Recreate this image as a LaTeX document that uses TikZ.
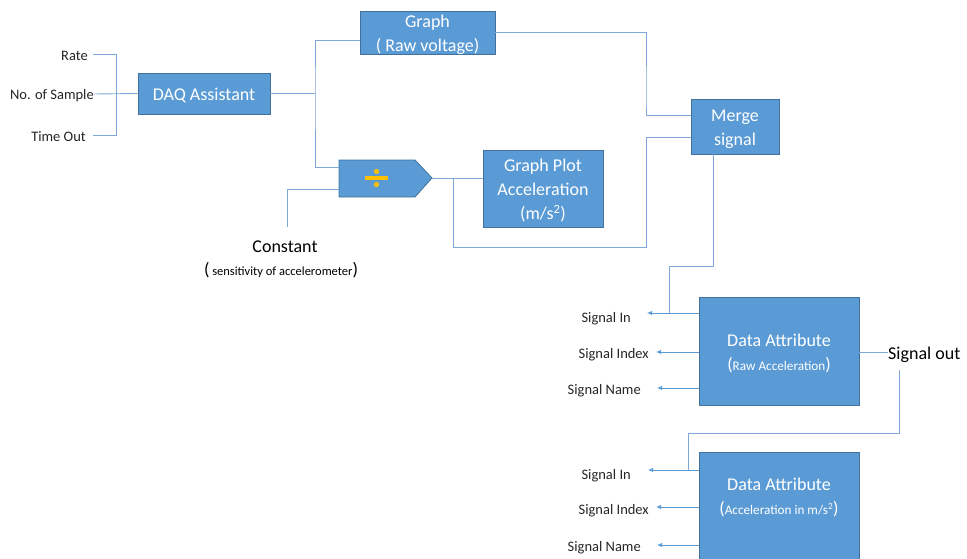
\documentclass[tikz,border=0pt]{standalone}
\usepackage{fontspec}
\setmainfont{Carlito}
\usetikzlibrary{arrows.meta}
\definecolor{boxfill}{HTML}{5B9BD5}
\definecolor{boxedge}{HTML}{41719C}
\definecolor{wirec}{HTML}{7DA7D9}
\definecolor{lblc}{HTML}{262626}
\definecolor{divc}{HTML}{FFC000}
\begin{document}
\begin{tikzpicture}[x=1pt,y=-1pt,
  blk/.style={draw=boxedge, fill=boxfill, line width=0.8pt, inner sep=0pt},
  btxt/.style={text=white, align=center, inner sep=0pt, font=\fontsize{18}{24}\selectfont},
  wire/.style={draw=wirec, line width=0.9pt},
  arr/.style={draw=boxfill, line width=0.9pt, -{Latex[length=5pt,width=4.5pt]}},
  lab/.style={text=lblc, inner sep=0pt, anchor=east, font=\fontsize{14.5}{17}\selectfont},
  big/.style={text=black, inner sep=0pt, font=\fontsize{18}{22}\selectfont}]
\useasboundingbox (0,0) rectangle (967,558);

% left labels
\node[lab] (rate) at (88,55.5) {Rate};
\node[lab] (nos) at (94,95.5) {No. of Sample};
\node[lab] (tout) at (86,136.5) {Time Out};
\coordinate (rw) at (93,54);
\coordinate (nw) at (94,94);
\coordinate (tw) at (93,135);

% boxes
\node[blk, minimum width=132, minimum height=41] (daq) at (204,93.5) {};
\node[btxt] at ([yshift=-2pt]daq.center) {DAQ Assistant};
\node[blk, minimum width=135, minimum height=43] (graph) at (427.5,32.5) {};
\node[btxt] at ([yshift=-2pt]graph.center) {Graph\\( Raw voltage)};
\node[blk, minimum width=120, minimum height=77] (gplot) at (543,188.5) {};
\node[btxt] at ([yshift=-2pt]gplot.center) {Graph Plot\\Acceleration\\(m/s\textsuperscript{2})};
\node[blk, minimum width=88, minimum height=55] (merge) at (735,126.5) {};
\node[btxt] at ([yshift=-2.5pt]merge.center) {Merge\\signal};
\node[blk, minimum width=160, minimum height=108] (da1) at (779,351) {};
\node[btxt] at ([yshift=-2pt]da1.center) {Data Attribute\\(\fontsize{13.2}{24}\selectfont Raw Acceleration\fontsize{18}{24}\selectfont)};
\node[blk, minimum width=160, minimum height=120] (da2) at (779,512) {};
\node[btxt] at ([yshift=15pt]da2.center) {Data Attribute\\(\fontsize{13.2}{24}\selectfont Acceleration in m/s\textsuperscript{2}\fontsize{18}{24}\selectfont)};

% divide block
\draw[draw=boxedge, fill=boxfill, line width=0.8pt] (339,160) -- (415,160) -- (432,178) -- (415,197) -- (339,197) -- cycle;
\coordinate (divin1) at (339,167);
\coordinate (divin2) at (339,189);
\coordinate (divtip) at (432,178);
\draw[divc, line width=4.5pt] (365,178) -- (388,178);
\fill[divc] (376.5,171.5) circle (2.6);
\fill[divc] (376.5,184.5) circle (2.6);

% constant
\node[big] (const) at (285,247) {Constant};
\node[inner sep=0pt, text=black] (sens) at (281,270.5) {\fontsize{18}{22}\selectfont(\fontsize{12.5}{22}\selectfont{} sensitivity of accelerometer\fontsize{18}{22}\selectfont)};
\coordinate (cst) at (287,227);

% left wiring
\draw[wire] (rw) -- (116,54) coordinate (jl) -- (jl |- tw) -- (tw);
\draw[wire] (nw) -- (daq.west);

% split
\coordinate (sp) at (315,93.5);
\draw[wire] (daq.east) -- (sp);
\draw[wire] ([yshift=-7.5pt]graph.west) -| (sp) |- (divin1);
\draw[wire] (cst) |- (divin2);

% divide output
\draw[wire] (divtip) -- (divtip -| gplot.west);
\coordinate (j2) at (453,178);
\coordinate (m2) at (646,247);
\draw[wire] (j2) |- (m2) |- ([yshift=-10.5pt]merge.west);

% graph to merge
\coordinate (m1) at (646,100);
\draw[wire] (graph.east) -| (m1) |- ([yshift=11.5pt]merge.west);

% merge to data attribute 1
\coordinate (m3) at (669,266);
\draw[wire] ([xshift=-22pt]merge.south) |- (m3) -- (669,313);

% data attribute 1 labels
\node[lab] (sin1) at (631,319) {Signal In};
\node[lab] (sidx1) at (649,355) {Signal Index};
\node[lab] (snm1) at (641,391) {Signal Name};
\draw[arr] ([yshift=38pt]da1.west) -- (647,313);
\draw[arr] ([yshift=-1pt]da1.west) -- (656,352);
\draw[arr] ([yshift=-37pt]da1.west) -- (657,388);

% signal out
\node[big, anchor=west] (sout) at (888,355) {Signal out};
\draw[wire] ([yshift=-1pt]da1.east) -- ([yshift=-1pt]da1.east -| sout.west);
\coordinate (so2) at (899,370);
\coordinate (m4) at (688,433);
\draw[wire] (so2) |- (m4) -- (688,470);

% data attribute 2 labels
\node[lab] (sin2) at (631,475.5) {Signal In};
\node[lab] (sidx2) at (649,511) {Signal Index};
\node[lab] (snm2) at (641,548) {Signal Name};
\draw[arr] ([yshift=42pt]da2.west) -- (648,470);
\draw[arr] ([yshift=5pt]da2.west) -- (656,507);
\draw[arr] ([yshift=-33pt]da2.west) -- (657,545);
\end{tikzpicture}
\end{document}
